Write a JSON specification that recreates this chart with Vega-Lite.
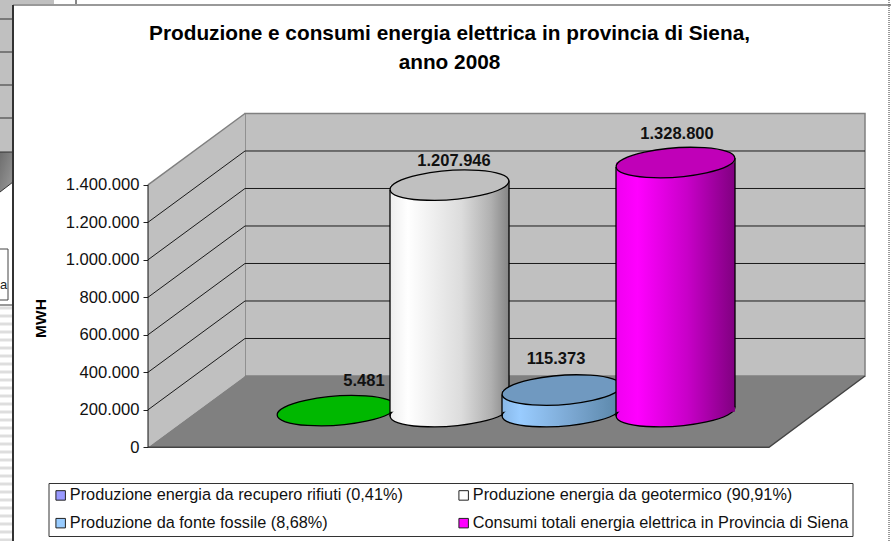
{
"$schema":"https://vega.github.io/schema/vega-lite/v6.json",
"width":891,"height":541,"padding":0,"autosize":{"type":"none"},"background":"white",
"title":{"text":["Produzione e consumi energia elettrica in provincia di Siena,","anno 2008"],"anchor":"middle","frame":"group","fontSize":20.8,"fontWeight":"bold","font":"Liberation Sans","color":"black","baseline":"top","offset":-74,"dx":4,"lineHeight":29},
"config":{"view":{"stroke":null},"font":"Liberation Sans"},
"datasets":{
"bars":[
{"serie":"Produzione energia da recupero rifiuti (0,41%)","value":5481,"label":"5.481","cx":336.5,"xl":277,"xr":396,"base":190000,"top":195481,"lx":364,"ly":353578},
{"serie":"Produzione energia da geotermico (90,91%)","value":1207946,"label":"1.207.946","cx":449.5,"xl":390,"xr":509,"base":190000,"top":1397946,"lx":454,"ly":1526838},
{"serie":"Produzione da fonte fossile (8,68%)","value":115373,"label":"115.373","cx":561.5,"xl":502,"xr":621,"base":190000,"top":305373,"lx":556,"ly":470904},
{"serie":"Consumi totali energia elettrica in Provincia di Siena","value":1328800,"label":"1.328.800","cx":675.5,"xl":616,"xr":735,"base":190000,"top":1518800,"lx":677,"ly":1670829}],
"sides":[
{"s":"w","x":390,"y":166000,"y2":1373946},{"s":"w","x":509,"y":214000,"y2":1421946},
{"s":"b","x":502,"y":166000,"y2":281373},{"s":"b","x":621,"y":214000,"y2":329373},
{"s":"m","x":616,"y":166000,"y2":1494800},{"s":"m","x":735,"y":214000,"y2":1542800}],
"grid":[
{"k":200000,"x":148,"y":200000},{"k":200000,"x":245,"y":580243},{"k":200000,"x":865,"y":580243},
{"k":400000,"x":148,"y":400000},{"k":400000,"x":245,"y":780243},{"k":400000,"x":865,"y":780243},
{"k":600000,"x":148,"y":600000},{"k":600000,"x":245,"y":980243},{"k":600000,"x":865,"y":980243},
{"k":800000,"x":148,"y":800000},{"k":800000,"x":245,"y":1180243},{"k":800000,"x":865,"y":1180243},
{"k":1000000,"x":148,"y":1000000},{"k":1000000,"x":245,"y":1380243},{"k":1000000,"x":865,"y":1380243},
{"k":1200000,"x":148,"y":1200000},{"k":1200000,"x":245,"y":1580243},{"k":1200000,"x":865,"y":1580243}],
"leftwall":[{"x":148,"y":0,"y2":1400000},{"x":245,"y":380243,"y2":1780243}],
"floor":[{"x":148,"y":0,"y2":0},{"x":245,"y":0,"y2":380243},{"x":769,"y":0,"y2":380243},{"x":865,"y":380243,"y2":380243}],
"edges":[
{"k":"a","x":148,"y":1400000},{"k":"a","x":245,"y":1780243},
{"k":"b","x":148,"y":0},{"k":"b","x":769,"y":0},{"k":"b","x":865,"y":380243}],
"backwall":[{"x":245,"x2":865,"y":380243,"y2":1780243}],
"axisline":[{"x":148,"y":0,"y2":1400000}],
"cells":[{"x":0,"x2":13,"y":1574835,"y2":2385451},{"x":13,"x2":54,"y":2358786,"y2":2385451}],
"celllines":[{"x":0,"x2":13,"y":2284124},{"x":0,"x2":13,"y":2108135},{"x":0,"x2":13,"y":1932146},{"x":0,"x2":13,"y":1756157},{"x":0,"x2":13,"y":1574835},{"x":0,"x2":13,"y":758886}],
"corner":[{"x":0,"y":1574835,"y2":1361515},{"x":13,"y":1574835,"y2":1414845}],
"box":[{"x":-2,"x2":8,"y":785551,"y2":1057534}],
"boxtext":[{"x":3.6,"y":863000,"t":"a"}],
"stripes":[{"y":742887},{"y":700223},{"y":657559},{"y":614895},{"y":572231},{"y":529567},{"y":486903},{"y":444239},{"y":401575},{"y":358911},{"y":316247},{"y":273583},{"y":230919},{"y":188255},{"y":145591},{"y":102927},{"y":60263},{"y":17599},{"y":-25065},{"y":-67729},{"y":-110393},{"y":-153057},{"y":-195721},{"y":-238385},{"y":-280949},{"y":-323613},{"y":-366277},{"y":-408941},{"y":-451605},{"y":-494269}],
"frameh":[{"x":13,"x2":891,"y":2358786}],
"framev":[{"x":13,"y":-499702,"y2":2358786}],
"framer":[{"x":889,"y":-499702,"y2":2385451}],
"topline":[{"x":76,"y":2358786,"y2":2385451}]
},
"layer":[
{"data":{"name":"cells"},"mark":{"type":"rect","fill":"#c0c0c0"},"encoding":{"x":{"field":"x","type":"quantitative","axis":null,"scale":{"domain":[0,891],"nice":false,"zero":false}},"x2":{"field":"x2"},"y":{"field":"y","type":"quantitative","scale":{"domain":[-499702,2385451],"nice":false,"zero":false},"axis":{"values":[0,200000,400000,600000,800000,1000000,1200000,1400000],"labelExpr":"replace(format(datum.value,','),/,/g,'.')","offset":-148,"domain":false,"grid":false,"ticks":true,"tickSize":5,"tickColor":"#222","labelPadding":4,"labelFontSize":16.6,"labelFont":"Liberation Sans","labelColor":"#111","title":"MWH","titleFont":"Liberation Sans","titleFontSize":15.5,"titleFontWeight":"bold","titleColor":"black","titleX":-108,"titleY":318,"titleAlign":"center","titleBaseline":"middle","labelOverlap":false}},"y2":{"field":"y2"}}},
{"data":{"name":"corner"},"mark":{"type":"area","fill":{"x1":0,"y1":0,"x2":1,"y2":1,"gradient":"linear","stops":[{"offset":0,"color":"#6e6e6e"},{"offset":1,"color":"#9a9a9a"}]},"stroke":null},"encoding":{"x":{"field":"x","type":"quantitative"},"y":{"field":"y","type":"quantitative"},"y2":{"field":"y2"}}},
{"data":{"name":"corner"},"mark":{"type":"line","stroke":"#333","strokeWidth":1},"encoding":{"x":{"field":"x","type":"quantitative"},"y":{"field":"y2","type":"quantitative"}}},
{"data":{"name":"stripes"},"mark":{"type":"rule","stroke":"#dedede","strokeWidth":3},"encoding":{"y":{"field":"y","type":"quantitative"},"x":{"datum":0,"type":"quantitative"},"x2":{"datum":13}}},
{"data":{"name":"celllines"},"mark":{"type":"rule","stroke":"#333","strokeWidth":1},"encoding":{"x":{"field":"x","type":"quantitative"},"x2":{"field":"x2"},"y":{"field":"y","type":"quantitative"}}},
{"data":{"name":"box"},"mark":{"type":"rect","fill":"white","stroke":"#444","strokeWidth":1},"encoding":{"x":{"field":"x","type":"quantitative"},"x2":{"field":"x2"},"y":{"field":"y","type":"quantitative"},"y2":{"field":"y2"}}},
{"data":{"name":"boxtext"},"mark":{"type":"text","fontSize":13,"color":"#222","clip":false},"encoding":{"x":{"field":"x","type":"quantitative"},"y":{"field":"y","type":"quantitative"},"text":{"field":"t"}}},
{"data":{"name":"topline"},"mark":{"type":"rule","stroke":"#111","strokeWidth":1},"encoding":{"x":{"field":"x","type":"quantitative"},"y":{"field":"y","type":"quantitative"},"y2":{"field":"y2"}}},
{"data":{"name":"frameh"},"mark":{"type":"rule","stroke":"#999","strokeWidth":2},"encoding":{"x":{"field":"x","type":"quantitative"},"x2":{"field":"x2"},"y":{"field":"y","type":"quantitative"}}},
{"data":{"name":"framev"},"mark":{"type":"rule","stroke":"#333","strokeWidth":2},"encoding":{"x":{"field":"x","type":"quantitative"},"y":{"field":"y","type":"quantitative"},"y2":{"field":"y2"}}},
{"data":{"name":"framer"},"mark":{"type":"rule","stroke":"#333","strokeWidth":1,"strokeDash":[1,1]},"encoding":{"x":{"field":"x","type":"quantitative"},"y":{"field":"y","type":"quantitative"},"y2":{"field":"y2"}}},

{"data":{"name":"backwall"},"mark":{"type":"rect","fill":"#c0c0c0","stroke":"#808080","strokeWidth":1.5},"encoding":{"x":{"field":"x","type":"quantitative"},"x2":{"field":"x2"},"y":{"field":"y","type":"quantitative"},"y2":{"field":"y2"}}},
{"data":{"name":"leftwall"},"mark":{"type":"area","fill":"#c0c0c0","stroke":null},"encoding":{"x":{"field":"x","type":"quantitative"},"y":{"field":"y","type":"quantitative"},"y2":{"field":"y2"}}},
{"data":{"name":"grid"},"mark":{"type":"line","stroke":"#1a1a1a","strokeWidth":1},"encoding":{"x":{"field":"x","type":"quantitative"},"y":{"field":"y","type":"quantitative"},"detail":{"field":"k"}}},
{"data":{"name":"floor"},"mark":{"type":"area","fill":"#808080","stroke":null},"encoding":{"x":{"field":"x","type":"quantitative"},"y":{"field":"y","type":"quantitative"},"y2":{"field":"y2"}}},
{"data":{"name":"edges"},"transform":[{"filter":"datum.k=='a'"}],"mark":{"type":"line","stroke":"#808080","strokeWidth":1.5},"encoding":{"x":{"field":"x","type":"quantitative"},"y":{"field":"y","type":"quantitative"}}},
{"data":{"name":"edges"},"transform":[{"filter":"datum.k=='b'"}],"mark":{"type":"line","stroke":"#444","strokeWidth":1.5},"encoding":{"x":{"field":"x","type":"quantitative"},"y":{"field":"y","type":"quantitative"}}},
{"data":{"name":"axisline"},"mark":{"type":"rule","stroke":"#111","strokeWidth":1},"encoding":{"x":{"field":"x","type":"quantitative"},"y":{"field":"y","type":"quantitative"},"y2":{"field":"y2"}}},

{"data":{"name":"bars"},"transform":[{"filter":"datum.value==5481"}],"mark":{"type":"point","shape":"M-0.997,0.075A1,0.24,-4.3,1,1,0.997,-0.075A1,0.24,-4.3,1,1,-0.997,0.075Z","filled":true,"fill":"#00b800","stroke":"black","strokeWidth":1.3,"opacity":1,"size":14161},"encoding":{"x":{"field":"cx","type":"quantitative"},"y":{"field":"top","type":"quantitative"}}},

{"data":{"name":"bars"},"transform":[{"filter":"datum.value==1207946"}],"mark":{"type":"point","shape":"M-0.997,0.075A1,0.24,-4.3,1,1,0.997,-0.075A1,0.24,-4.3,1,1,-0.997,0.075Z","filled":true,"fill":{"x1":0,"y1":0,"x2":1,"y2":0,"gradient":"linear","stops":[{"offset":0,"color":"#eeeeee"},{"offset":0.15,"color":"#ffffff"},{"offset":0.6,"color":"#dcdcdc"},{"offset":0.85,"color":"#b0b0b0"},{"offset":1,"color":"#858585"}]},"stroke":"black","strokeWidth":1.3,"opacity":1,"size":14161},"encoding":{"x":{"field":"cx","type":"quantitative"},"y":{"field":"base","type":"quantitative"}}},
{"data":{"name":"bars"},"transform":[{"filter":"datum.value==1207946"}],"mark":{"type":"rect","fill":{"x1":0,"y1":0,"x2":1,"y2":0,"gradient":"linear","stops":[{"offset":0,"color":"#eeeeee"},{"offset":0.15,"color":"#ffffff"},{"offset":0.6,"color":"#dcdcdc"},{"offset":0.85,"color":"#b0b0b0"},{"offset":1,"color":"#858585"}]}},"encoding":{"x":{"field":"xl","type":"quantitative"},"x2":{"field":"xr"},"y":{"field":"base","type":"quantitative"},"y2":{"field":"top"}}},
{"data":{"name":"sides"},"transform":[{"filter":"datum.s=='w'"}],"mark":{"type":"rule","stroke":"black","strokeWidth":1.3},"encoding":{"x":{"field":"x","type":"quantitative"},"y":{"field":"y","type":"quantitative"},"y2":{"field":"y2"}}},
{"data":{"name":"bars"},"transform":[{"filter":"datum.value==1207946"}],"mark":{"type":"point","shape":"M-0.997,0.075A1,0.24,-4.3,1,1,0.997,-0.075A1,0.24,-4.3,1,1,-0.997,0.075Z","filled":true,"fill":"#c0c0c0","stroke":"black","strokeWidth":1.3,"opacity":1,"size":14161},"encoding":{"x":{"field":"cx","type":"quantitative"},"y":{"field":"top","type":"quantitative"}}},

{"data":{"name":"bars"},"transform":[{"filter":"datum.value==115373"}],"mark":{"type":"point","shape":"M-0.997,0.075A1,0.24,-4.3,1,1,0.997,-0.075A1,0.24,-4.3,1,1,-0.997,0.075Z","filled":true,"fill":{"x1":0,"y1":0,"x2":1,"y2":0,"gradient":"linear","stops":[{"offset":0,"color":"#88b8e8"},{"offset":0.15,"color":"#99ccff"},{"offset":0.6,"color":"#7aa6d0"},{"offset":1,"color":"#5a86a8"}]},"stroke":"black","strokeWidth":1.3,"opacity":1,"size":14161},"encoding":{"x":{"field":"cx","type":"quantitative"},"y":{"field":"base","type":"quantitative"}}},
{"data":{"name":"bars"},"transform":[{"filter":"datum.value==115373"}],"mark":{"type":"rect","fill":{"x1":0,"y1":0,"x2":1,"y2":0,"gradient":"linear","stops":[{"offset":0,"color":"#88b8e8"},{"offset":0.15,"color":"#99ccff"},{"offset":0.6,"color":"#7aa6d0"},{"offset":1,"color":"#5a86a8"}]}},"encoding":{"x":{"field":"xl","type":"quantitative"},"x2":{"field":"xr"},"y":{"field":"base","type":"quantitative"},"y2":{"field":"top"}}},
{"data":{"name":"sides"},"transform":[{"filter":"datum.s=='b'"}],"mark":{"type":"rule","stroke":"black","strokeWidth":1.3},"encoding":{"x":{"field":"x","type":"quantitative"},"y":{"field":"y","type":"quantitative"},"y2":{"field":"y2"}}},
{"data":{"name":"bars"},"transform":[{"filter":"datum.value==115373"}],"mark":{"type":"point","shape":"M-0.997,0.075A1,0.24,-4.3,1,1,0.997,-0.075A1,0.24,-4.3,1,1,-0.997,0.075Z","filled":true,"fill":"#7099c0","stroke":"black","strokeWidth":1.3,"opacity":1,"size":14161},"encoding":{"x":{"field":"cx","type":"quantitative"},"y":{"field":"top","type":"quantitative"}}},

{"data":{"name":"bars"},"transform":[{"filter":"datum.value==1328800"}],"mark":{"type":"point","shape":"M-0.997,0.075A1,0.24,-4.3,1,1,0.997,-0.075A1,0.24,-4.3,1,1,-0.997,0.075Z","filled":true,"fill":{"x1":0,"y1":0,"x2":1,"y2":0,"gradient":"linear","stops":[{"offset":0,"color":"#f000f0"},{"offset":0.18,"color":"#ff00ff"},{"offset":0.6,"color":"#c800c8"},{"offset":1,"color":"#800080"}]},"stroke":"black","strokeWidth":1.3,"opacity":1,"size":14161},"encoding":{"x":{"field":"cx","type":"quantitative"},"y":{"field":"base","type":"quantitative"}}},
{"data":{"name":"bars"},"transform":[{"filter":"datum.value==1328800"}],"mark":{"type":"rect","fill":{"x1":0,"y1":0,"x2":1,"y2":0,"gradient":"linear","stops":[{"offset":0,"color":"#f000f0"},{"offset":0.18,"color":"#ff00ff"},{"offset":0.6,"color":"#c800c8"},{"offset":1,"color":"#800080"}]}},"encoding":{"x":{"field":"xl","type":"quantitative"},"x2":{"field":"xr"},"y":{"field":"base","type":"quantitative"},"y2":{"field":"top"}}},
{"data":{"name":"sides"},"transform":[{"filter":"datum.s=='m'"}],"mark":{"type":"rule","stroke":"black","strokeWidth":1.3},"encoding":{"x":{"field":"x","type":"quantitative"},"y":{"field":"y","type":"quantitative"},"y2":{"field":"y2"}}},
{"data":{"name":"bars"},"transform":[{"filter":"datum.value==1328800"}],"mark":{"type":"point","shape":"M-0.997,0.075A1,0.24,-4.3,1,1,0.997,-0.075A1,0.24,-4.3,1,1,-0.997,0.075Z","filled":true,"fill":"#c000b8","stroke":"black","strokeWidth":1.3,"opacity":1,"size":14161},"encoding":{"x":{"field":"cx","type":"quantitative"},"y":{"field":"top","type":"quantitative"}}},

{"data":{"name":"bars"},"mark":{"type":"text","fontSize":16.5,"fontWeight":"bold","font":"Liberation Sans","color":"#111","baseline":"middle"},"encoding":{"x":{"field":"lx","type":"quantitative"},"y":{"field":"ly","type":"quantitative"},"text":{"field":"label"}}},
{"data":{"name":"bars"},"mark":{"type":"point","shape":"square","filled":true,"opacity":0,"size":10},"encoding":{"x":{"field":"cx","type":"quantitative"},"y":{"field":"base","type":"quantitative"},"color":{"field":"serie","type":"nominal","sort":null,"scale":{"domain":["Produzione energia da recupero rifiuti (0,41%)","Produzione energia da geotermico (90,91%)","Produzione da fonte fossile (8,68%)","Consumi totali energia elettrica in Provincia di Siena"],"range":["#9999ff","#ffffff","#99ccff","#ff00ff"]},"legend":{"title":null,"orient":"none","legendX":48.5,"legendY":483,"direction":"horizontal","columns":2,"symbolType":"square","symbolSize":90,"symbolOpacity":1,"symbolStrokeColor":"#222","symbolStrokeWidth":1,"labelFont":"Liberation Sans","labelFontSize":16.3,"labelColor":"#111","labelLimit":500,"labelOffset":1,"padding":4,"rowPadding":11,"columnPadding":52,"strokeColor":"#333","fillColor":"white","gridAlign":"each"}}}}
]
}
